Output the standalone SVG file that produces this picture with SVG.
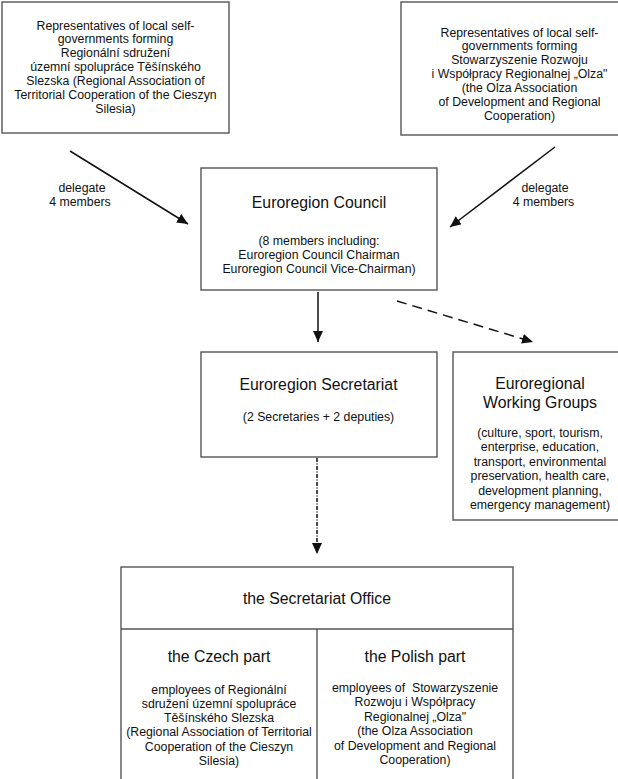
<svg xmlns="http://www.w3.org/2000/svg" width="618" height="779" viewBox="0 0 618 779">
<style>
.box{fill:#fff;stroke:#555;stroke-width:1.4}
.sep{stroke:#555;stroke-width:1.4;fill:none}
text{font-family:"Liberation Sans",Arial,sans-serif;fill:#111;text-anchor:middle}
.s{font-size:12.3px}
.t{font-size:15.8px}
.c{stroke:#111;stroke-width:1.5;fill:none}
</style>
<defs>
<marker id="ah" markerUnits="userSpaceOnUse" markerWidth="14" markerHeight="12" refX="11" refY="5" orient="auto">
<path d="M0,0 L11,5 L0,10 Z" fill="#111"/>
</marker>
</defs>
<rect width="618" height="779" fill="#fff"/>
<g id="connectors">
<line class="c" x1="70" y1="151" x2="188" y2="224" marker-end="url(#ah)"/>
<line class="c" x1="555" y1="147" x2="450" y2="227" marker-end="url(#ah)"/>
<line class="c" x1="318" y1="292" x2="318" y2="342" marker-end="url(#ah)"/>
<line class="c" x1="397" y1="301" x2="533" y2="342" stroke-dasharray="10 6" marker-end="url(#ah)"/>
<line class="c" x1="317" y1="458" x2="317" y2="554" stroke-dasharray="4 1.5 1 1.5" stroke-width="1.2" marker-end="url(#ah)"/>
<text class="s" x="82" y="191.5">delegate</text>
<text class="s" x="80" y="205.5">4 members</text>
<text class="s" x="545" y="191.5">delegate</text>
<text class="s" x="543.5" y="205.5">4 members</text>
</g>
<g id="rsts">
<rect class="box" x="2" y="2" width="227" height="131"/>
<text class="s" x="115.5" y="29.5">Representatives of local self-</text>
<text class="s" x="115.5" y="43.3">governments forming</text>
<text class="s" x="115.5" y="57.1">Regionální sdružení</text>
<text class="s" x="115.5" y="71">územní spolupráce Těšínského</text>
<text class="s" x="115.5" y="84.8">Slezska (Regional Association of</text>
<text class="s" x="115.5" y="98.6">Territorial Cooperation of the Cieszyn</text>
<text class="s" x="115.5" y="112.5">Silesia)</text>
</g>
<g id="olza">
<rect class="box" x="401" y="2" width="237" height="133"/>
<text class="s" x="519.5" y="36.5">Representatives of local self-</text>
<text class="s" x="519.5" y="50.4">governments forming</text>
<text class="s" x="519.5" y="64.3">Stowarzyszenie Rozwoju</text>
<text class="s" x="519.5" y="78.2">i Współpracy Regionalnej „Olza"</text>
<text class="s" x="519.5" y="92.1">(the Olza Association</text>
<text class="s" x="519.5" y="106">of Development and Regional</text>
<text class="s" x="519.5" y="120">Cooperation)</text>
</g>
<g id="council">
<rect class="box" x="201" y="168" width="236" height="122"/>
<text class="t" x="319" y="208">Euroregion Council</text>
<text class="s" x="319" y="244.5">(8 members including:</text>
<text class="s" x="319" y="258.5">Euroregion Council Chairman</text>
<text class="s" x="319" y="272.5">Euroregion Council Vice-Chairman)</text>
</g>
<g id="secretariat">
<rect class="box" x="201" y="352" width="236" height="105"/>
<text class="t" x="318.5" y="390">Euroregion Secretariat</text>
<text class="s" x="318.5" y="420.5">(2 Secretaries + 2 deputies)</text>
</g>
<g id="working-groups">
<rect class="box" x="453" y="352" width="178" height="168"/>
<text class="t" x="540" y="389">Euroregional</text>
<text class="t" x="540" y="408">Working Groups</text>
<text class="s" x="540" y="436.5">(culture, sport, tourism,</text>
<text class="s" x="540" y="451">enterprise, education,</text>
<text class="s" x="540" y="465.5">transport, environmental</text>
<text class="s" x="540" y="480">preservation, health care,</text>
<text class="s" x="540" y="494.5">development planning,</text>
<text class="s" x="540" y="509">emergency management)</text>
</g>
<g id="office">
<rect class="box" x="121" y="567" width="392" height="230"/>
<line class="sep" x1="121" y1="629" x2="513" y2="629"/>
<line class="sep" x1="317" y1="629" x2="317" y2="790"/>
<text class="t" x="317" y="604">the Secretariat Office</text>
<text class="t" x="219" y="662">the Czech part</text>
<text class="s" x="219" y="693.5">employees of Regionální</text>
<text class="s" x="219" y="707.8">sdružení územní spolupráce</text>
<text class="s" x="219" y="722.1">Těšínského Slezska</text>
<text class="s" x="219" y="736.4">(Regional Association of Territorial</text>
<text class="s" x="219" y="750.7">Cooperation of the Cieszyn</text>
<text class="s" x="219" y="765">Silesia)</text>
<text class="t" x="415" y="662">the Polish part</text>
<text class="s" x="415" y="691.5" xml:space="preserve">employees of  Stowarzyszenie</text>
<text class="s" x="415" y="706">Rozwoju i Współpracy</text>
<text class="s" x="415" y="720.5">Regionalnej „Olza"</text>
<text class="s" x="415" y="735">(the Olza Association</text>
<text class="s" x="415" y="749.5">of Development and Regional</text>
<text class="s" x="415" y="764">Cooperation)</text>
</g>
</svg>
